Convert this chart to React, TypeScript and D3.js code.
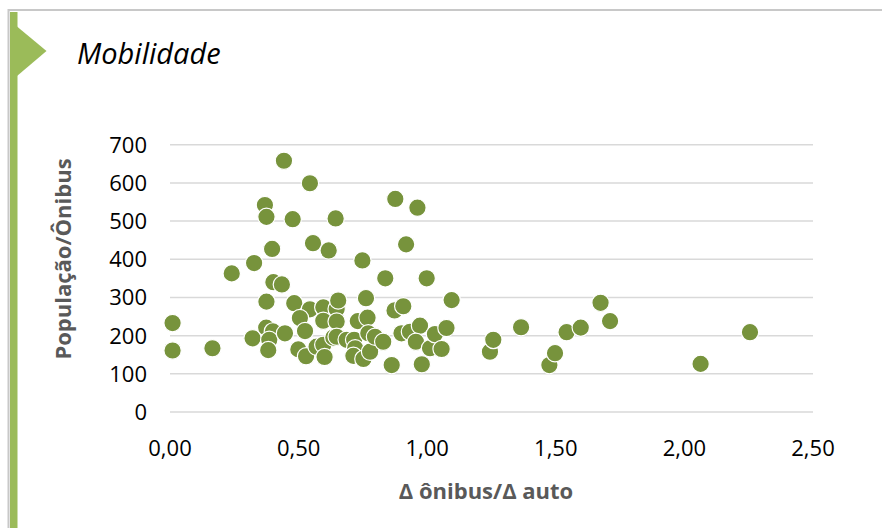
import React from "react";
import * as d3 from "d3";

const xValues: number[] = [
  0.01, 0.01, 0.165, 0.24, 0.327, 0.321,
  0.443, 0.544, 0.369, 0.375, 0.477, 0.644, 0.876, 0.962, 0.397, 0.556, 0.617, 0.918, 0.748, 0.837, 0.998, 0.402, 0.435,
  0.375, 0.483, 0.762, 1.095, 0.544, 0.596, 0.648, 0.654, 0.873, 0.907, 0.505, 0.596, 0.648, 0.73, 0.768,
  0.525, 0.374, 0.40, 0.386, 0.382, 0.447, 0.499, 0.529, 0.57, 0.596, 0.601, 0.635, 0.648, 0.687, 0.716,
  0.72, 0.713, 0.752, 0.778, 0.771, 0.797, 0.829, 0.9, 0.933, 0.972, 0.956, 1.011, 1.03, 1.075, 1.056, 0.862, 0.979,
  1.244, 1.257, 1.365, 1.475, 1.497, 1.542, 1.597, 1.674, 1.711, 2.063, 2.255,
];
const yValues: number[] = [
  233, 161, 167, 363, 390, 193,
  658, 599, 542, 511, 505, 507, 558, 535, 427, 442, 423, 439, 397, 350, 350, 340, 334,
  289, 285, 298, 293, 269, 274, 270, 292, 266, 277, 246, 239, 237, 238, 247,
  212, 221, 211, 189, 162, 206, 164, 146, 171, 176, 144, 195, 197, 189, 189,
  167, 147, 139, 158, 206, 197, 184, 206, 210, 226, 184, 167, 204, 220, 165, 123, 125,
  158, 189, 222, 123, 154, 209, 221, 286, 238, 126, 209,
];
const xTicks: number[] = [0, 0.5, 1, 1.5, 2, 2.5];
const yTicks: number[] = [0, 100, 200, 300, 400, 500, 600, 700];
const title = "Mobilidade";
const xTitle = "Δ ônibus/Δ auto";
const yTitle = "População/Ônibus";

export default function App() {
  const W = 882, H = 528;
  const x = d3.scaleLinear().domain([0, 2.5]).range([170, 813]);
  const y = d3.scaleLinear().domain([0, 700]).range([412, 144.7]);
  const fmtX = (v: number) => v.toFixed(2).replace(".", ",");
  const font = "'Open Sans', sans-serif";
  const pts = xValues.map((xv, i) => ({ x: xv, y: yValues[i] }));
  return (
    <svg width={W} height={H} style={{ position: "absolute", left: 0, top: 0 }}>
      <rect x={0} y={0} width={W} height={H} fill="#fff" />
      <line x1={8} x2={W} y1={10} y2={10} stroke="#c8c8c8" strokeWidth={2} />
      <line x1={8.5} x2={8.5} y1={9} y2={H} stroke="#c8c8c8" strokeWidth={2} />
      <rect x={10} y={12} width={7.5} height={H - 12} fill="#9BBB59" />
      <path d="M17,26.5 L46.5,51 L17,76 Z" fill="#9BBB59" />
      <text x={77} y={64} fontFamily={font} fontStyle="italic" fontSize={29} fill="#000">{title}</text>
      {yTicks.map((t) => (
        <g key={"y" + t}>
          <line x1={170} x2={813} y1={y(t)} y2={y(t)} stroke="#d9d9d9" strokeWidth={1.5} />
          <text x={147} y={y(t)} dy="0.36em" textAnchor="end" fontFamily={font} fontSize={22} fill="#000">{t}</text>
        </g>
      ))}
      {xTicks.map((t) => (
        <text key={"x" + t} x={x(t)} y={456} textAnchor="middle" fontFamily={font} fontSize={22} fill="#000">{fmtX(t)}</text>
      ))}
      {pts.map((p, i) => (
        <circle key={i} cx={x(p.x)} cy={y(p.y)} r={8.7} fill="#77933C" stroke="#fff" strokeWidth={1.2} />
      ))}
      <text x={486} y={499} textAnchor="middle" fontFamily={font} fontWeight="bold" fontSize={22} fill="#595959">{xTitle}</text>
      <text transform={`translate(71,259) rotate(-90)`} textAnchor="middle" fontFamily={font} fontWeight="bold" fontSize={22} fill="#595959">{yTitle}</text>
    </svg>
  );
}
